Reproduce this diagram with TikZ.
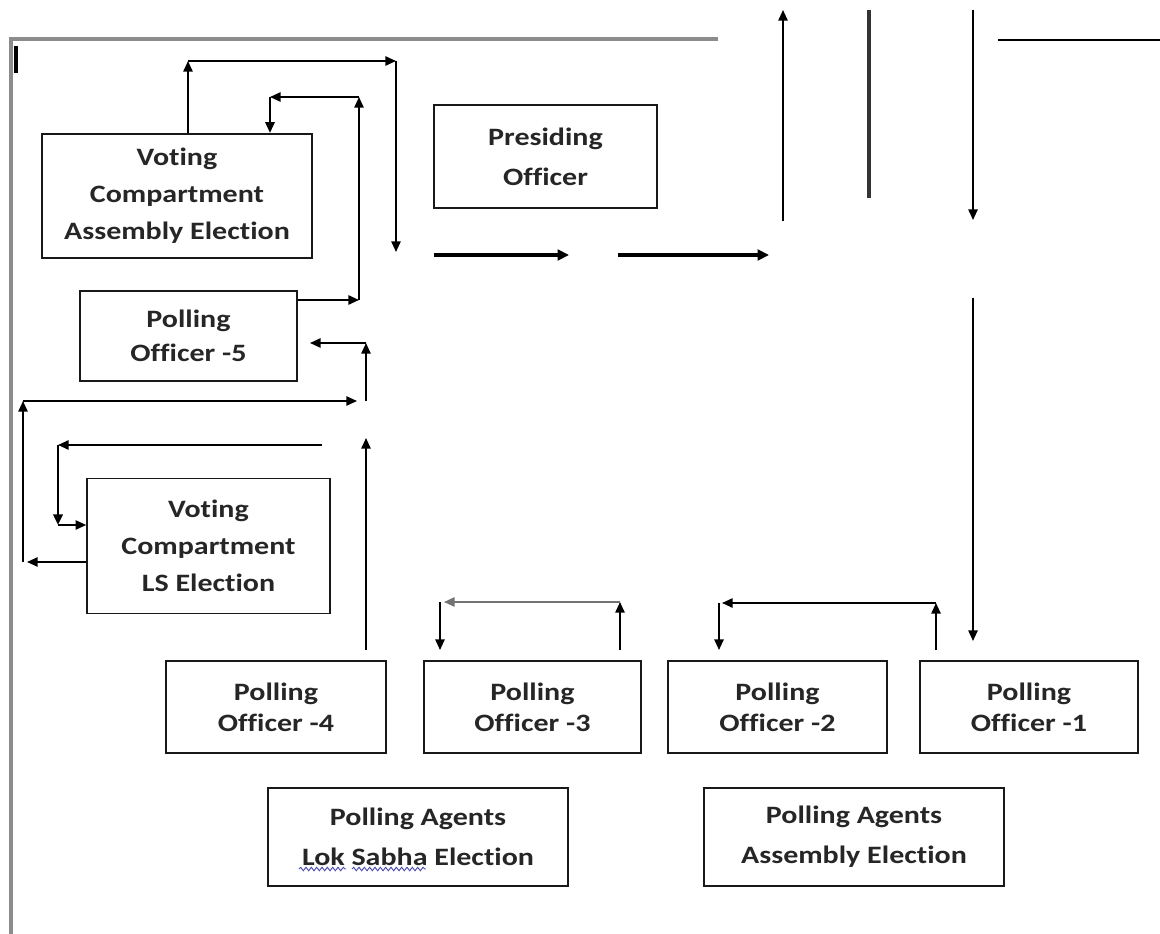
\documentclass[tikz,border=0pt]{standalone}
\usepackage{fontspec}
\newfontfamily\lbl[FakeStretch=1.2,Ligatures=NoCommon]{Carlito}
\usetikzlibrary{arrows.meta,decorations.pathmorphing}
\tikzset{
  box/.style={draw=black!90, line width=1.7pt, inner sep=0pt, align=center, text=black!85,
    font=\lbl\bfseries\fontsize{18.75}{27.75}\selectfont},
  arr/.style={line width=1.3pt, -{Triangle[length=8pt,width=7pt]}},
  bigarr/.style={line width=2.6pt, -{Triangle[length=8.5pt,width=8pt]}},
  frame/.style={draw=black!45, line width=2.6pt},
}
\begin{document}
\begin{tikzpicture}[x=0.75pt,y=-0.75pt]
\useasboundingbox (0,0) rectangle (1160,934);
% frame
\draw[frame] (718,39) -- (11,39) -- (11,934);
\draw[line width=2.6pt] (16,46) -- (16,73);
% boxes
\node[box, minimum width=202.5pt, minimum height=93pt] (vca) at (177,196) {Voting\\Compartment\\Assembly Election};
\node[box, minimum width=162.75pt, minimum height=67.5pt, font=\lbl\bfseries\fontsize{18.75}{25.5}\selectfont] (po5) at (188.5,336) {Polling\\Officer -5};
\node[box, line width=1.2pt, minimum width=167.25pt, minimum height=77.25pt, font=\lbl\bfseries\fontsize{18.75}{30}\selectfont] (pres) at (545.5,156.5) {Presiding\\Officer};
\node[box, line width=1.2pt, minimum width=182.25pt, minimum height=101.25pt] (vcls) at (208.5,546) {Voting\\Compartment\\LS Election};
\node[box, minimum width=165pt, minimum height=69pt, font=\lbl\bfseries\fontsize{18.75}{23}\selectfont] (po4) at (276,707) {Polling\\Officer -4};
\node[box, minimum width=162.75pt, minimum height=69pt, font=\lbl\bfseries\fontsize{18.75}{23}\selectfont] (po3) at (532.5,707) {Polling\\Officer -3};
\node[box, minimum width=164.25pt, minimum height=69pt, font=\lbl\bfseries\fontsize{18.75}{23}\selectfont] (po2) at (777.5,707) {Polling\\Officer -2};
\node[box, minimum width=163.5pt, minimum height=69pt, font=\lbl\bfseries\fontsize{18.75}{23}\selectfont] (po1) at (1029,707) {Polling\\Officer -1};
\node[box, minimum width=225pt, minimum height=73.5pt, font=\lbl\bfseries\fontsize{18.75}{30}\selectfont] (pals) at (418,837) {Polling Agents\\Lok Sabha Election};
\node[box, minimum width=225pt, minimum height=73.5pt, font=\lbl\bfseries\fontsize{18.75}{30}\selectfont] (paas) at (854,837) {Polling Agents\\Assembly Election};
% spell-check squiggles
\draw[blue!40!gray, line width=0.7pt, decorate, decoration={snake, amplitude=1.3pt, segment length=4pt}] (299,869) -- (346,869);
\draw[blue!40!gray, line width=0.7pt, decorate, decoration={snake, amplitude=1.3pt, segment length=4pt}] (352,869) -- (426,869);
% path 1: VCA top -> right -> down
\coordinate (c1) at (188,61);
\coordinate (c2) at (396,61);
\coordinate (c3) at (396,252);
\draw[arr] (vca.north -| c1) -- (c1);
\draw[arr] (c1) -- (c2);
\draw[arr] (c2) -- (c3);
% path 2: PO5 -> up -> VCA
\coordinate (d0) at (359,300);
\coordinate (d1) at (359,97);
\coordinate (d2) at (270,97);
\draw[arr] (po5.east |- d0) -- (d0);
\draw[arr] (d0) -- (d1);
\draw[arr] (d1) -- (d2);
\draw[arr] (d2) -- (d2 |- vca.north);
% path 3: LS box -> left -> up -> right -> PO5
\coordinate (e0) at (27,562);
\coordinate (e0b) at (23,562);
\coordinate (e1) at (23,401);
\coordinate (e2) at (357,401);
\coordinate (e3) at (366,401);
\coordinate (e4) at (366,343);
\coordinate (e5) at (310,343);
\draw[arr] (vcls.west |- e0) -- (e0);
\draw[arr] (e0b) -- (e1);
\draw[arr] (e1) -- (e2);
\draw[arr] (e3) -- (e4);
\draw[arr] (e4) -- (e5);
% path 4: into LS box
\coordinate (f0) at (322,445);
\coordinate (f1) at (58,445);
\coordinate (f2) at (58,525);
\draw[arr] (f0) -- (f1);
\draw[arr, line width=1.9pt] (f1) -- (f2);
\draw[arr] (f2) -- (vcls.west |- f2);
% PO4 up
\coordinate (g0) at (366,438);
\coordinate (g1) at (366,650);
\draw[arr] (g1) -- (g0);
% PO3 loop
\coordinate (h0) at (620,650);
\coordinate (h1) at (620,602);
\coordinate (h2) at (444,602);
\coordinate (h3) at (440,602);
\coordinate (h4) at (440,650);
\draw[arr] (h0) -- (h1);
\draw[arr, draw=black!55] (h1) -- (h2);
\draw[arr] (h3) -- (h4);
% PO2 loop
\coordinate (i0) at (936,650);
\coordinate (i1) at (936,603);
\coordinate (i2) at (722,603);
\coordinate (i3) at (719,603);
\coordinate (i4) at (719,650);
\draw[arr] (i0) -- (i1);
\draw[arr] (i1) -- (i2);
\draw[arr] (i3) -- (i4);
% big horizontal arrows
\coordinate (j0) at (434,255);
\coordinate (j1) at (569,255);
\coordinate (j2) at (618,255);
\coordinate (j3) at (769,255);
\draw[bigarr] (j0) -- (j1);
\draw[bigarr] (j2) -- (j3);
% top right
\coordinate (k0) at (783,221);
\coordinate (k1) at (783,10);
\draw[arr] (k0) -- (k1);
\coordinate (b0) at (869,10);
\coordinate (b1) at (869,198);
\draw[line width=3.6pt, draw=black!80] (b0) -- (b1);
\coordinate (m0) at (973,10);
\coordinate (m1) at (973,220);
\draw[arr] (m0) -- (m1);
\coordinate (n0) at (998,40);
\coordinate (n1) at (1160,40);
\draw[line width=1.3pt] (n0) -- (n1);
\coordinate (p0) at (973,298);
\coordinate (p1) at (973,641);
\draw[arr] (p0) -- (p1);
\end{tikzpicture}
\end{document}
